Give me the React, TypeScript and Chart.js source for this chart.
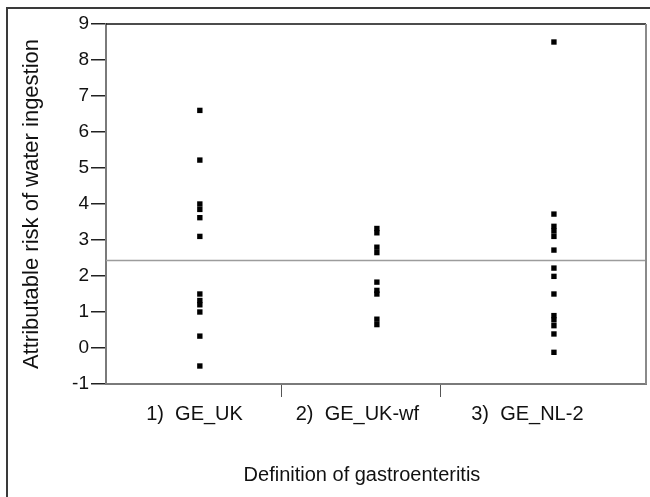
import React, { useEffect, useRef } from 'react';
import { Chart, registerables } from 'chart.js';

Chart.register(...registerables);

// ---- data ----
const categories = ['1)  GE_UK', '2)  GE_UK-wf', '3)  GE_NL-2'];
const categoryPositions = [1, 2, 3];
const labelPositions = [0.97, 1.89, 2.85];
const dividerPositions = [1.46, 2.36];
const geUK = [6.6, 5.22, 4.0, 3.85, 3.62, 3.1, 1.5, 1.32, 1.2, 1.0, 0.33, -0.5];
const geUKwf = [3.32, 3.2, 2.8, 2.65, 1.83, 1.6, 1.5, 0.8, 0.65];
const geNL2 = [8.5, 3.72, 3.38, 3.25, 3.1, 2.72, 2.22, 1.99, 1.5, 0.9, 0.78, 0.62, 0.39, -0.12];
const referenceValue = 2.43;
const yMin = -1;
const yMax = 9;
const xMin = 0.47;
const xMax = 3.52;
const yTitle = 'Attributable risk of water ingestion';
const xTitle = 'Definition of gastroenteritis';

const FONT = '"Liberation Sans", Arial, Helvetica, sans-serif';

const seriesList = [geUK, geUKwf, geNL2];

const framePlugin = {
  id: 'framePlugin',
  beforeDraw(chart: any) {
    const { ctx } = chart;
    ctx.save();
    ctx.strokeStyle = '#3a3a3a';
    ctx.lineWidth = 2;
    ctx.strokeRect(7, 8, 1000, 1000);
    ctx.restore();
  },
  afterDraw(chart: any) {
    const { ctx, chartArea } = chart;
    ctx.save();
    ctx.strokeStyle = '#111';
    ctx.lineWidth = 1.5;
    ctx.beginPath();
    ctx.moveTo(chartArea.left, chartArea.top);
    ctx.lineTo(chartArea.right, chartArea.top);
    ctx.stroke();
    ctx.strokeStyle = '#8a8a8a';
    ctx.lineWidth = 2;
    ctx.beginPath();
    ctx.moveTo(chartArea.right, chartArea.top);
    ctx.lineTo(chartArea.right, chartArea.bottom);
    ctx.stroke();
    ctx.fillStyle = '#111';
    ctx.font = `20px ${FONT}`;
    ctx.textAlign = 'center';
    ctx.textBaseline = 'middle';
    const cx = chartArea.left + (chartArea.right - chartArea.left) * 0.474;
    ctx.fillText(xTitle, cx, 475);
    ctx.restore();
  },
};

export default function App() {
  const ref = useRef<HTMLCanvasElement | null>(null);

  useEffect(() => {
    if (!ref.current) return;
    const datasets: any[] = seriesList.map((vals, i) => ({
      type: 'scatter',
      data: vals.map((v) => ({ x: categoryPositions[i], y: v })),
      pointStyle: 'rect',
      pointRadius: 3.8,
      backgroundColor: '#000',
      borderColor: '#000',
      borderWidth: 0,
    }));
    datasets.unshift({
      type: 'line',
      data: [
        { x: xMin, y: referenceValue },
        { x: xMax, y: referenceValue },
      ],
      borderColor: '#9c9c9c',
      borderWidth: 1.5,
      pointRadius: 0,
    });

    const chart = new Chart(ref.current, {
      type: 'scatter',
      data: { datasets },
      options: {
        animation: false,
        responsive: false,
        layout: { padding: { left: 0, top: 24, right: 4, bottom: 0 } },
        plugins: { legend: { display: false }, tooltip: { enabled: false } },
        scales: {
          x: {
            type: 'linear',
            min: xMin,
            max: xMax,
            afterBuildTicks: (scale: any) => {
              scale.ticks = [...labelPositions, ...dividerPositions]
                .sort((a, b) => a - b)
                .map((v) => ({ value: v }));
            },
            afterFit: (scale: any) => {
              scale.height = 113;
            },
            ticks: {
              autoSkip: false,
              maxRotation: 0,
              minRotation: 0,
              padding: 5,
              color: '#111',
              font: { family: FONT, size: 20 },
              callback: (value: any) => {
                const i = labelPositions.indexOf(Number(value));
                return i >= 0 ? categories[i] : '';
              },
            },
            grid: {
              drawOnChartArea: false,
              tickLength: 13,
              lineWidth: 1,
              color: (ctx: any) =>
                ctx.tick && dividerPositions.includes(ctx.tick.value) ? '#555' : 'rgba(0,0,0,0)',
            },
            border: { color: '#7a7a7a', width: 2 },
          },
          y: {
            type: 'linear',
            min: yMin,
            max: yMax,
            afterFit: (scale: any) => {
              scale.width = 106;
            },
            ticks: {
              stepSize: 1,
              padding: 2,
              color: '#111',
              font: { family: FONT, size: 19 },
            },
            grid: {
              drawOnChartArea: false,
              tickLength: 15,
              lineWidth: 1.5,
              color: '#222',
            },
            border: { color: '#7a7a7a', width: 2 },
            title: {
              display: true,
              text: yTitle,
              color: '#111',
              font: { family: FONT, size: 22 },
              padding: { top: 19, bottom: 0 },
            },
          },
        },
      },
      plugins: [framePlugin],
    } as any);
    return () => chart.destroy();
  }, []);

  return (
    <div style={{ position: 'absolute', left: 0, top: 0, width: 650, height: 497 }}>
      <canvas ref={ref} width={650} height={497} />
    </div>
  );
}
